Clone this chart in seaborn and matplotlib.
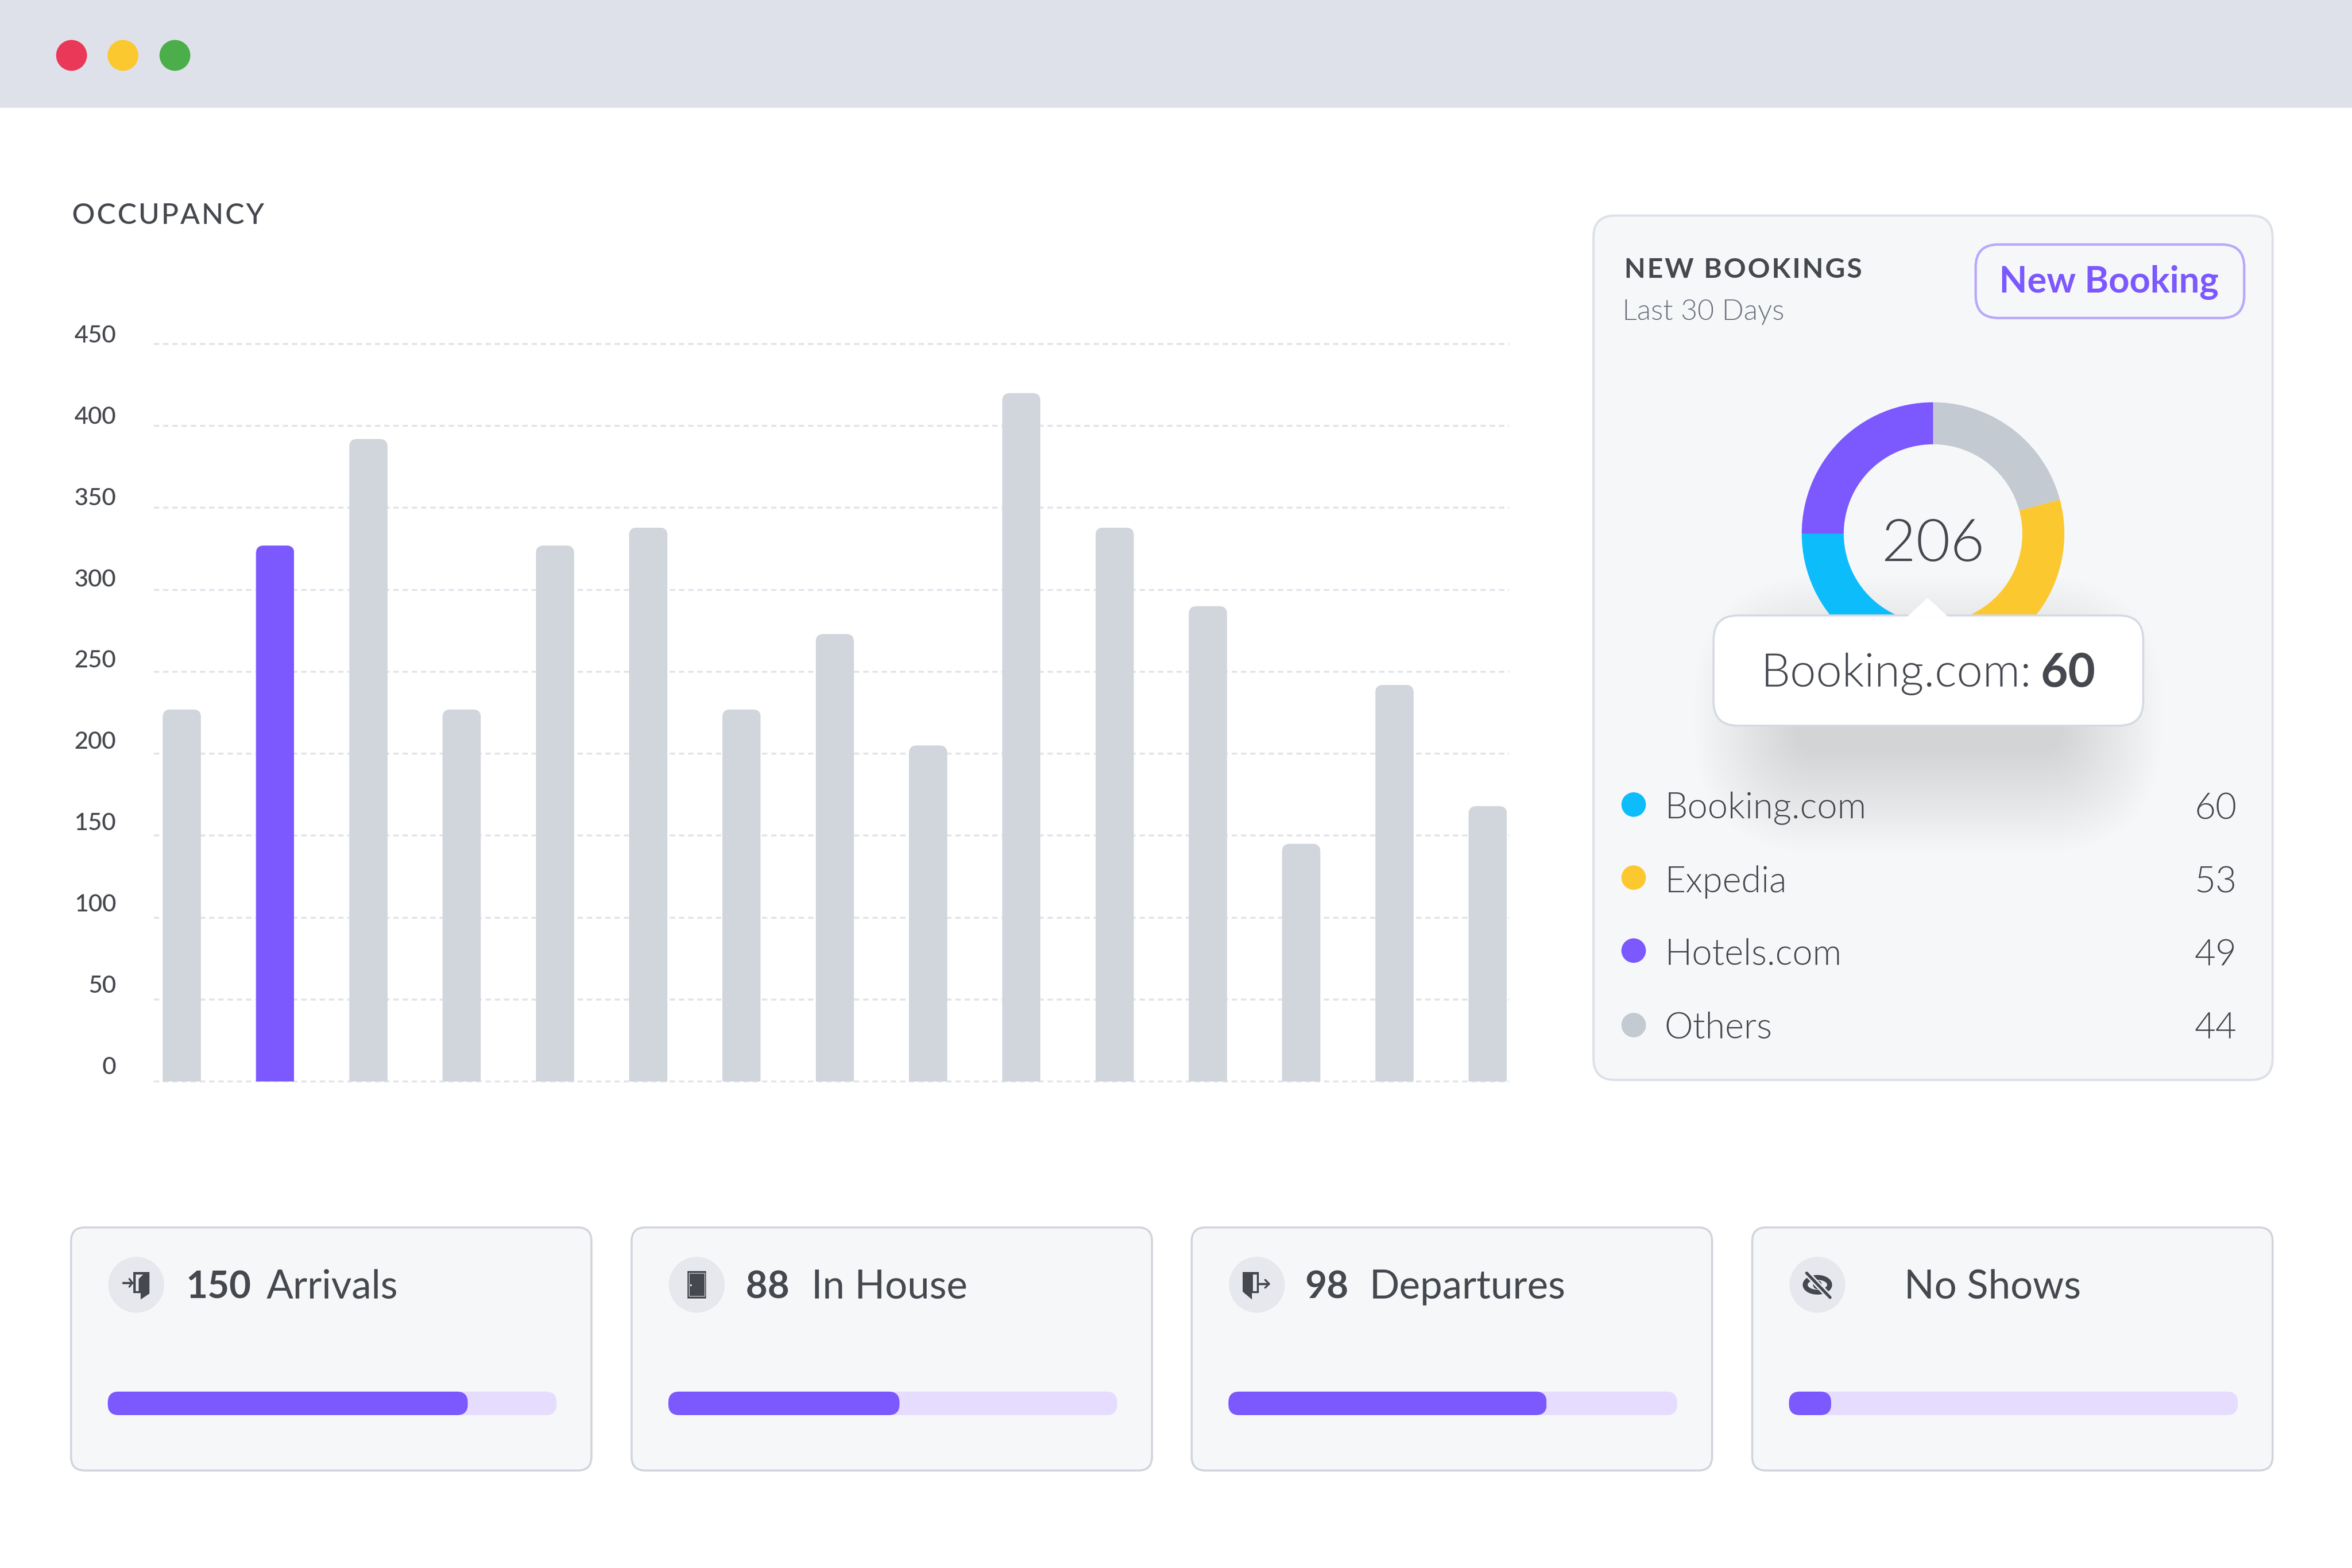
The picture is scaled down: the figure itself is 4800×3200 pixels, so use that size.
import warnings
import numpy as np
import pandas as pd
import matplotlib
matplotlib.use('Agg')
import matplotlib.pyplot as plt
from matplotlib.patches import FancyBboxPatch, Circle, Rectangle, Polygon, Ellipse
from matplotlib.transforms import ScaledTranslation
import seaborn as sns

# chart values
bar_values = [227, 327, 392, 227, 327, 338, 227, 273, 205, 420, 338, 290, 145, 242, 168]
highlight_bar = 1
y_ticks = [0, 50, 100, 150, 200, 250, 300, 350, 400, 450]

sources = ['Booking.com', 'Expedia', 'Hotels.com', 'Others']
source_values = [60, 53, 49, 44]
source_colors = ['#0DBDFB', '#FCC830', '#7C58FF', '#C3CAD1']
donut_total = 206
# arc sizes measured on the ring, clockwise from the top (degrees)
donut_labels = ['Others', 'Expedia', 'Booking.com', 'Hotels.com']
donut_arcs = [75, 95, 100, 90]
donut_colors = ['#C3CAD1', '#FCC830', '#0DBDFB', '#7C58FF']

card_numbers = ['150', '88', '98', '']
card_labels = ['Arrivals', 'In House', 'Departures', 'No Shows']
card_progress = [0.802, 0.515, 0.709, 0.094]

W, H = 4800, 3200
DARK = '#45484E'
GREY = '#6E7480'
PURPLE = '#7C58FF'
CARD = '#F6F7F9'
FONT = 'Lato'

sns.set_theme(style='white')
plt.rcParams['font.family'] = [FONT, 'DejaVu Sans']


def px_axes(fig, x0, y0, x1, y1, zorder):
  return fig.add_axes([x0/W, 1-y1/H, (x1-x0)/W, (y1-y0)/H], zorder=zorder)


def rounded(x0, y0, x1, y1, r, **kw):
  return FancyBboxPatch((x0, y0), x1-x0, y1-y0, boxstyle=f'round,pad=0,rounding_size={r}', **kw)


def spaced(s):
  return '\u200a'.join(s)


def clip_round(patch, ax, bg, r, extend_down=0):
  # clip a bar to a rounded box, done in pixel coordinates of the figure
  b = patch.get_bbox()
  (x0, y0), (x1, y1) = ax.transData.transform([(b.x0, b.y0), (b.x1, b.y1)])
  top, bot = H-max(y0, y1), H-min(y0, y1)
  clip = rounded(min(x0, x1), top, max(x0, x1), bot+extend_down, r, transform=bg.transData)
  patch.set_clip_path(clip)


def draw_chart(fig, bg):
  ax = px_axes(fig, 314, 702, 3080, 2207, 1)
  ax.patch.set_alpha(0)
  df = pd.DataFrame({'bar': np.arange(len(bar_values)), 'occupancy': bar_values})
  palette = [PURPLE if i == highlight_bar else '#D1D5DC' for i in df.bar]
  sns.barplot(data=df, x='bar', y='occupancy', hue='bar', palette=palette, legend=False,
              width=0.41, saturation=1, linewidth=0, ax=ax)
  ax.set_xlim(-0.3, 14.23)
  ax.set_ylim(0, 450)
  ax.set_yticks(y_ticks)
  ax.set_xticks([])
  ax.set_xlabel('')
  ax.set_ylabel('')
  ax.tick_params(axis='y', length=0, pad=18.5, labelsize=11.8, labelcolor=DARK)
  # the labels sit a little above their lines, more so near the bottom
  for i, lab in enumerate(ax.get_yticklabels()):
    offset = ScaledTranslation(0, (7.9-2.8*i/9)/72, fig.dpi_scale_trans)
    lab.set_transform(lab.get_transform()+offset)
    lab.set_fontweight('medium')
  ax.set_axisbelow(True)
  ax.yaxis.grid(True, color='#E1E4EC', lw=0.95, linestyle=(0, (2.75, 2.0)))
  for line in ax.get_ygridlines():
    line.set_clip_on(False)
  sns.despine(ax=ax, left=True, bottom=True)
  for bar in ax.patches:
    clip_round(bar, ax, bg, 16, extend_down=40)
  bg.text(147, 457, spaced('OCCUPANCY'), fontsize=14, fontweight='medium', color=DARK)


def draw_panel(fig, bg):
  bg.add_patch(rounded(3252, 440, 4638, 2204, 44, fc=CARD, ec='#DDE0E8', lw=1.1))
  bg.text(3315, 567, spaced('NEW BOOKINGS'), fontsize=13.5, fontweight='bold', color=DARK)
  bg.text(3311, 653, 'Last 30 Days', fontsize=14.1, fontweight=300, color=GREY)
  bg.add_patch(rounded(4032, 499, 4580, 649, 46, fc=CARD, ec='#B9A8FB', lw=1.2))
  bg.text(4304, 597, 'New Booking', fontsize=17.8, fontweight='bold', color=PURPLE, ha='center')

  # ring
  pie = px_axes(fig, 3945-268, 1089-268, 3945+268, 1089+268, 2)
  pie.pie(donut_arcs, colors=donut_colors, startangle=90, counterclock=False,
          radius=1, wedgeprops={'width': 0.32, 'linewidth': 0})
  pie.set_xlim(-1, 1)
  pie.set_ylim(-1, 1)
  pie.set_axis_off()
  pie.text(0, -0.21, str(donut_total), ha='center', va='baseline', fontsize=29, fontweight=300,
           color=DARK)

  # legend rows
  for i, (name, val, col) in enumerate(zip(sources, source_values, source_colors)):
    dot_y = [1642, 1791, 1940, 2092][i]
    base = [1671, 1821, 1970, 2119][i]
    bg.add_patch(Circle((3334, dot_y), 25, fc=col, ec='none'))
    bg.text(3397, base, name, fontsize=17.7, fontweight=300, color=DARK)
    bg.text(4565, base, str(val), fontsize=17.9, fontweight=300, color=DARK, ha='right')

  # tooltip on top of the ring, soft shadow first
  top = px_axes(fig, 0, 0, W, H, 3)
  top.set_xlim(0, W)
  top.set_ylim(H, 0)
  top.set_axis_off()
  for grow in range(210, 0, -6):
    bg.add_patch(rounded(3497+170-grow, 1256+130-grow, 4374-170+grow, 1481+50+grow, 50+grow,
                         fc='#B9C0CF', ec='none', alpha=0.007, zorder=1.5))
  top.add_patch(rounded(3497, 1256, 4374, 1481, 50, fc='white', ec='#D5D9E2', lw=1.0))
  top.add_patch(Polygon([(3893, 1258), (3934, 1220), (3975, 1258)], fc='white', ec='none'))
  top.text(3593, 1401, f'{sources[0]}:', fontsize=22.8, fontweight=300, color=DARK)
  top.text(4276, 1401, str(source_values[0]), fontsize=23, fontweight='bold', color=DARK, ha='right')


def draw_icon(bg, kind, cx, cy):
  bg.add_patch(Circle((cx, cy), 57, fc='#E6E8ED', ec='none'))
  if kind == 0:
    bg.add_patch(Polygon([(cx-6, cy-26), (cx+27, cy-26), (cx+27, cy+18), (cx+9, cy+30), (cx+9, cy+17), (cx-6, cy+17)],
                         fc=DARK, ec='none'))
    bg.add_patch(Polygon([(cx-1, cy-21), (cx+14, cy-21), (cx+5, cy-12), (cx+5, cy+13), (cx-1, cy+13)], fc='#E6E8ED', ec='none'))
    bg.plot([cx-27, cx-8], [cy-4, cy-4], color=DARK, lw=1.1, solid_capstyle='round')
    bg.plot([cx-14, cx-8, cx-14], [cy-12, cy-4, cy+4], color=DARK, lw=0.9)
  elif kind == 1:
    bg.add_patch(Rectangle((cx-19, cy-28), 38, 56, fc=DARK, ec='none'))
    bg.add_patch(Rectangle((cx-16, cy-24), 32, 47, fc='none', ec='#E6E8ED', lw=0.3))
    bg.add_patch(Circle((cx-12, cy+1), 2, fc='#E6E8ED', ec='none'))
  elif kind == 2:
    bg.add_patch(Polygon([(cx-29, cy-26), (cx+4, cy-26), (cx+4, cy+17), (cx-10, cy+17), (cx-10, cy+30), (cx-29, cy+14)],
                         fc=DARK, ec='none'))
    bg.add_patch(Polygon([(cx-8, cy-21), (cx, cy-21), (cx, cy+13), (cx-8, cy+13), (cx-8, cy-9)], fc='#E6E8ED', ec='none'))
    bg.plot([cx+4, cx+24], [cy-2, cy-2], color=DARK, lw=1.1, solid_capstyle='round')
    bg.plot([cx+17, cx+25, cx+17], [cy-10, cy-2, cy+6], color=DARK, lw=0.9)
  else:
    bg.add_patch(Ellipse((cx, cy), 50, 30, fc='none', ec=DARK, lw=2.4))
    bg.add_patch(Circle((cx, cy), 9, fc=DARK, ec='none'))
    bg.plot([cx-22, cx+26], [cy-24, cy+26], color='#E6E8ED', lw=3)
    bg.plot([cx-22, cx+26], [cy-24, cy+26], color=DARK, lw=1.4)


def draw_cards(fig, bg):
  lefts = [145, 1289, 2432, 3576]
  num_x = [380, 1522, 2664, None]
  lab_x = [544, 1656, 2795, 3886]
  for i, left in enumerate(lefts):
    bg.add_patch(rounded(left, 2505, left+1062, 3001, 28, fc=CARD, ec='#D1D5DC', lw=1.0))
    draw_icon(bg, i, left+133, 2622)
    if card_numbers[i]:
      bg.text(num_x[i], 2650, card_numbers[i], fontsize=18.4, fontweight='bold', color=DARK)
    bg.text(lab_x[i], 2650, card_labels[i], fontsize=19.4, color=DARK)

    # progress track and fill
    pax = px_axes(fig, left+75, 2840, left+991, 2888, 2)
    sns.barplot(x=[1.0], y=[0], orient='h', width=1, color='#E6DDFE', saturation=1, linewidth=0, ax=pax)
    sns.barplot(x=[card_progress[i]], y=[0], orient='h', width=1, color=PURPLE, saturation=1, linewidth=0, ax=pax)
    pax.set_xlim(0, 1)
    pax.set_ylim(0.5, -0.5)
    pax.set_axis_off()
    for bar in pax.patches:
      clip_round(bar, pax, bg, 22)


def main():
  fig = plt.figure(figsize=(W/300, H/300), dpi=300, facecolor='white')
  bg = px_axes(fig, 0, 0, W, H, 0)
  bg.set_xlim(0, W)
  bg.set_ylim(H, 0)
  bg.set_axis_off()

  # window title bar
  bg.add_patch(Rectangle((0, 0), W, 220, fc='#DEE1EA', ec='none'))
  for x, col in zip([146, 251, 357], ['#EA3858', '#FCC830', '#4BAE4B']):
    bg.add_patch(Circle((x, 113), 31.5, fc=col, ec='none'))

  draw_chart(fig, bg)
  draw_panel(fig, bg)
  draw_cards(fig, bg)

  fig.savefig('out.png', dpi=300)


if __name__ == '__main__':
  warnings.simplefilter('ignore')
  main()
